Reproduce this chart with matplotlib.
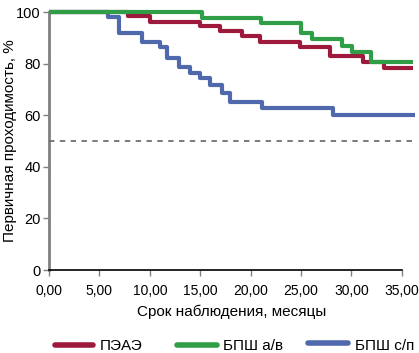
import numpy as np
import matplotlib
matplotlib.use("Agg")
import matplotlib.pyplot as plt
from matplotlib.lines import Line2D
from matplotlib.ticker import FuncFormatter

plt.rcParams['font.family'] = ['Liberation Sans', 'DejaVu Sans']

# Kaplan-Meier style step data (months, % patency)
paea_t = [0.0, 7.8, 10.0, 15.0, 17.0, 19.1, 20.9, 24.9, 27.9, 31.1, 33.2, 36.1]
paea_y = [100, 98.6, 96.2, 94.7, 92.6, 90.7, 88.4, 86.4, 83.0, 80.6, 78.3, 78.3]

bpsh_av_t = [0.0, 15.2, 21.0, 25.0, 26.1, 29.1, 30.1, 31.9, 36.1]
bpsh_av_y = [100, 97.7, 95.8, 91.9, 89.5, 86.8, 84.5, 80.6, 80.6]

bpsh_sp_t = [0.0, 5.9, 6.9, 9.2, 11.0, 11.7, 12.9, 14.0, 15.0, 16.0, 17.2, 18.0, 21.1, 28.2, 36.3]
bpsh_sp_y = [100, 98.0, 92.0, 88.5, 86.4, 82.2, 78.7, 76.2, 74.6, 71.7, 68.6, 65.3, 62.9, 59.9, 59.9]

labels = ["ПЭАЭ", "БПШ а/в", "БПШ с/п"]
colors = ["#9e1a3c", "#2f9e47", "#5069ad"]

x_ticks = [0, 5, 10, 15, 20, 25, 30, 35]
y_ticks = [0, 20, 40, 60, 80, 100]

W, H = 419, 353
fig = plt.figure(figsize=(W / 100, H / 100), dpi=100)
ax = fig.add_axes([49 / W, 1 - 270 / H, 366 / W, 258 / H])

series = [(paea_t, paea_y), (bpsh_av_t, bpsh_av_y), (bpsh_sp_t, bpsh_sp_y)]
zorders = [3, 4, 2]
for (t, y), lab, col, z in zip(series, labels, colors, zorders):
    ax.plot(t, y, drawstyle='steps-post', color=col, lw=3, label=lab,
            clip_on=False, solid_capstyle='butt', zorder=z)

ax.axhline(50, color='#707070', lw=1.3, ls=(0, (3, 3)), clip_on=False, zorder=1)

ax.set_xlim(0, 36.3)
ax.set_ylim(0, 100)
ax.set_xticks(x_ticks)
ax.set_yticks(y_ticks)
ax.xaxis.set_major_formatter(FuncFormatter(lambda v, p: ("%.2f" % v).replace('.', ',')))

for s in ['top', 'right']:
    ax.spines[s].set_visible(False)
ax.spines['bottom'].set_bounds(0, 35)
ax.spines['bottom'].set_color('black')
ax.spines['bottom'].set_linewidth(1.2)
ax.spines['left'].set_color('#808080')
ax.spines['left'].set_linewidth(2)
ax.spines['left'].set_zorder(0)

ax.tick_params(axis='x', length=4, width=1, color='#808080', pad=6, labelsize=10)
ax.tick_params(axis='y', length=4, width=1, color='#808080', pad=2, labelsize=10.5)

ax.set_xlabel("Срок наблюдения, месяцы", fontsize=11, labelpad=5)
ax.set_ylabel("Первичная проходимость, %", fontsize=11)
ax.yaxis.set_label_coords(-32 / 366, 0.5)

# legend drawn by hand: (line start, line end, text x, y) in pixels
legend_pos = [(55, 93, 100, 345), (177, 217, 223, 345), (308, 348, 355, 343)]
for (x0, x1, tx, ly), lab, col in zip(legend_pos, labels, colors):
    fig.add_artist(Line2D([x0 / W, x1 / W], [1 - ly / H, 1 - ly / H], color=col,
                          lw=4, solid_capstyle='round', transform=fig.transFigure))
    fig.text(tx / W, 1 - 346 / H, lab, fontsize=11, va='center', ha='left')

fig.savefig("out.png", dpi=100)
